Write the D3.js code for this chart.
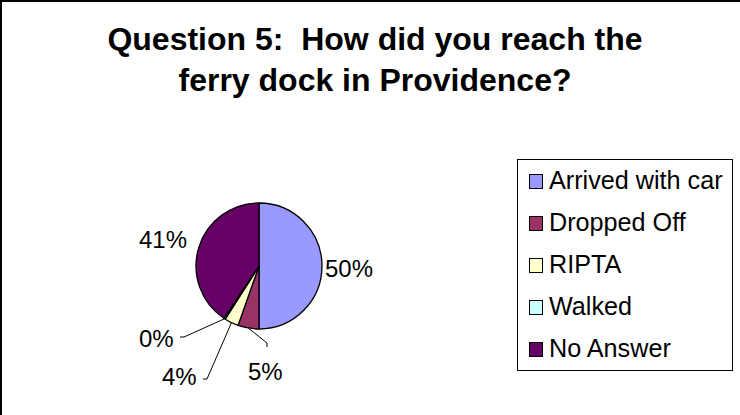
<!DOCTYPE html>
<html>
<head>
<meta charset="utf-8">
<script src="https://cdn.jsdelivr.net/npm/d3@7"></script>
<style>
  body { margin: 0; background: #fff; }
</style>
</head>
<body>
<div id="chart-area"></div>
<script>
// data (percent of answers)
const categories = ["Arrived with car", "Dropped Off", "RIPTA", "Walked", "No Answer"];
const shares = [50.0, 5.4, 3.6, 0.4, 40.6];
const colors = ["#9999ff", "#993366", "#ffffcc", "#ccffff", "#660066"];
const titleLines = ["Question 5:  How did you reach the", "ferry dock in Providence?"];

const width = 740, height = 415;
const cx = 259, cy = 266, radius = 63;

// where each slice label sits; leader = draw a line to it
const labelPos = [
  { x: 325, y: 277, leader: false },
  { x: 248, y: 380, leader: [[267, 343], [267, 347]] },
  { x: 162, y: 385, leader: [[207, 379], [203, 379]] },
  { x: 139, y: 347, leader: [[184, 337], [180, 337]] },
  { x: 139, y: 248, leader: false }
];

let svg = d3.select('#chart-area')
  .append('svg')
  .attr('width', width)
  .attr('height', height)
  .style("font-family", "'Liberation Sans', Arial, sans-serif");

// chart frame (only left and top edges show in the crop)
svg.append('rect')
  .attr('x', 1).attr('y', 1)
  .attr('width', width + 10).attr('height', height + 10)
  .attr('fill', '#fff')
  .attr('stroke', '#000')
  .attr('stroke-width', 2);

svg.append('text')
  .attr('text-anchor', 'middle')
  .attr('font-weight', 'bold')
  .attr('font-size', 32)
  .style('white-space', 'pre')
  .selectAll('tspan')
  .data(titleLines)
  .join('tspan')
  .attr('x', 375)
  .attr('y', (d, i) => 50 + i * 41)
  .text(d => d);

const data = categories.map((c, i) => ({ name: c, value: shares[i], color: colors[i], pos: labelPos[i] }));

const pie = d3.pie().sort(null).value(d => d.value);
const arc = d3.arc().innerRadius(0).outerRadius(radius);
const arcs = pie(data);

let g = svg.append('g')
  .attr('transform', `translate(${cx}, ${cy})`);

g.selectAll('path')
  .data(arcs)
  .join('path')
  .attr('d', arc)
  .attr('fill', d => d.data.color)
  .attr('stroke', '#000')
  .attr('stroke-width', 1.3)
  .attr('stroke-linejoin', 'round');

// leader lines start on the rim at the slice middle
arcs.filter(d => d.data.pos.leader).forEach(d => {
  const a = (d.startAngle + d.endAngle) / 2;
  const start = [cx + Math.sin(a) * radius, cy - Math.cos(a) * radius];
  svg.append('polyline')
    .attr('points', [start].concat(d.data.pos.leader).map(p => p.join(',')).join(' '))
    .attr('fill', 'none')
    .attr('stroke', '#000')
    .attr('stroke-width', 1);
});

const pct = v => Math.round(v) + '%';

svg.selectAll('text.lbl')
  .data(arcs)
  .join('text')
  .attr('class', 'lbl')
  .attr('x', d => d.data.pos.x)
  .attr('y', d => d.data.pos.y)
  .attr('font-size', 24)
  .text(d => pct(d.data.value));

// legend
const legend = svg.append('g');
legend.append('rect')
  .attr('x', 517.5).attr('y', 159.5)
  .attr('width', 215).attr('height', 211)
  .attr('fill', '#fff')
  .attr('stroke', '#000')
  .attr('stroke-width', 1);

const rowY = d3.scalePoint().domain(categories).range([189, 357]);

const item = legend.selectAll('g.item')
  .data(data)
  .join('g')
  .attr('class', 'item')
  .attr('transform', d => `translate(0, ${rowY(d.name)})`);

item.append('rect')
  .attr('x', 529.5).attr('y', -14.5)
  .attr('width', 13).attr('height', 14)
  .attr('fill', d => d.color)
  .attr('stroke', '#000')
  .attr('stroke-width', 1);

item.append('text')
  .attr('x', 549)
  .attr('y', 0)
  .attr('font-size', 25.2)
  .text(d => d.name);
</script>
</body>
</html>
